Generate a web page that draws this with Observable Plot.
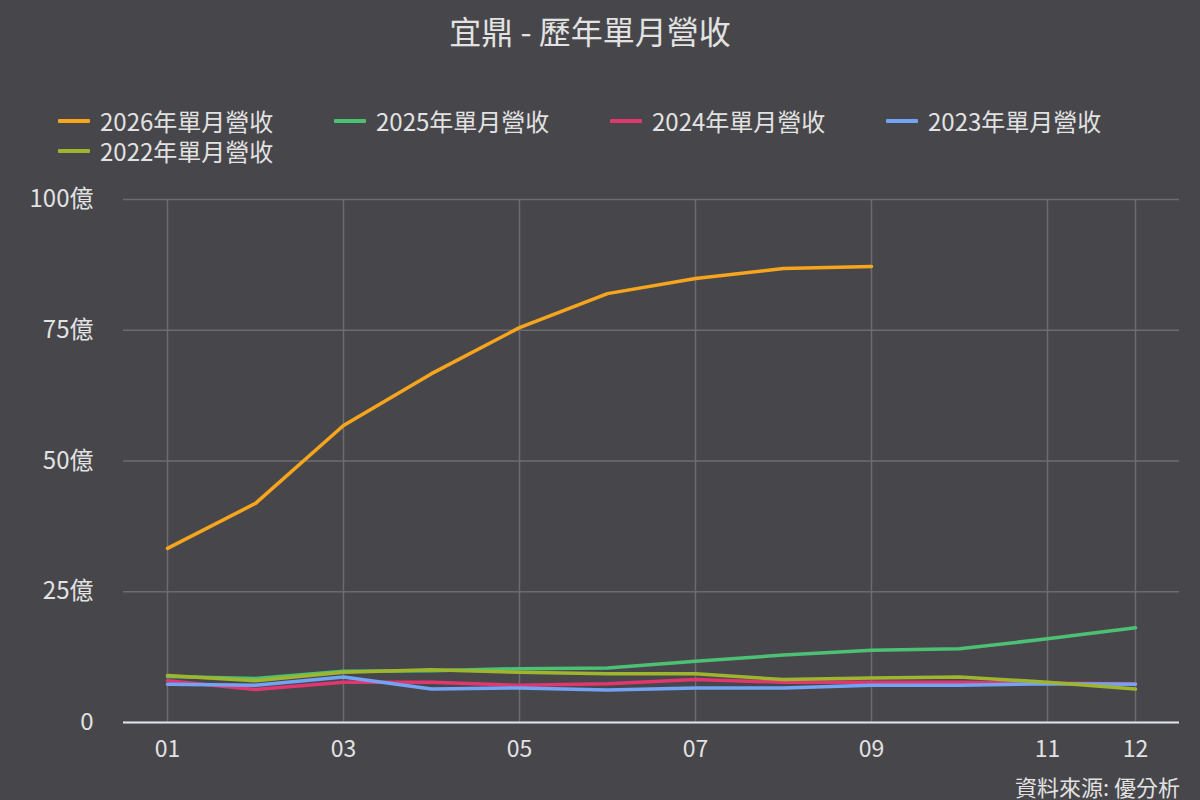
<!DOCTYPE html>
<html>
<head>
<meta charset="utf-8">
<script src="https://cdn.jsdelivr.net/npm/d3@7"></script>
<script src="https://cdn.jsdelivr.net/npm/@observablehq/plot@0.6"></script>
<style>
  html, body { margin: 0; padding: 0; }
  body { width: 1200px; height: 800px; background: #47474b; position: relative; overflow: hidden;
         font-family: "Noto Sans CJK TC", sans-serif; color: #e2e2e2; }
  #title { position: absolute; top: 8px; left: -10px; width: 1200px; text-align: center; font-size: 32px; line-height: 44px; }
  #legend { position: absolute; top: 106px; left: 58px; width: 1140px; display: flex; flex-wrap: wrap; }
  .item { width: 276px; height: 30px; display: flex; align-items: center; font-size: 24px; line-height: 28px; }
  .item span { line-height: 28px; }
  .sw { width: 32px; height: 4px; margin-right: 10px; border-radius: 1px; }
  #chart { position: absolute; top: 180px; left: 0; }
  #caption { position: absolute; top: 771px; right: 20px; font-size: 22px; line-height: 30px; }
</style>
</head>
<body>
<div id="title">宜鼎 - 歷年單月營收</div>
<div id="legend"></div>
<div id="chart"></div>
<div id="caption">資料來源: 優分析</div>
<script>
const months = [1,2,3,4,5,6,7,8,9,10,11,12];
const seriesNames = ["2026年單月營收","2025年單月營收","2024年單月營收","2023年單月營收","2022年單月營收"];
const seriesColors = ["#f7a51d","#4cc174","#e0376f","#73a3f5","#a0b52e"];
const rev2026 = [33.3,41.9,56.8,66.7,75.5,82.0,84.9,86.8,87.2,null,null,null];
const rev2025 = [8.8,8.4,9.8,9.9,10.3,10.4,11.7,12.9,13.8,14.1,16.0,18.1];
const rev2024 = [8.0,6.3,7.7,7.7,7.1,7.4,8.2,7.7,7.7,7.7,7.5,7.4];
const rev2023 = [7.3,7.1,8.7,6.4,6.6,6.2,6.6,6.6,7.1,7.1,7.4,7.3];
const rev2022 = [9.0,8.0,9.6,10.1,9.6,9.3,9.3,8.2,8.5,8.7,7.7,6.4];
const yTicks = [0,25,50,75,100];
const xTicks = [1,3,5,7,9,11,12];

const allSeries = [rev2026, rev2025, rev2024, rev2023, rev2022];
const data = [];
allSeries.forEach((arr, si) => {
  arr.forEach((v, i) => { if (v != null) data.push({series: seriesNames[si], month: months[i], value: v}); });
});

const legend = document.getElementById("legend");
seriesNames.forEach((n, i) => {
  const it = document.createElement("div"); it.className = "item";
  const sw = document.createElement("div"); sw.className = "sw"; sw.style.background = seriesColors[i];
  const t = document.createElement("span"); t.textContent = n;
  it.appendChild(sw); it.appendChild(t); legend.appendChild(it);
});

const chart = Plot.plot({
  width: 1200,
  height: 590,
  marginTop: 19,
  marginBottom: 48,
  marginLeft: 123,
  marginRight: 21,
  style: {background: "transparent", color: "#e2e2e2", fontFamily: '"Noto Sans CJK TC", sans-serif'},
  x: {domain: [0.5, 12.5], label: null},
  y: {domain: [0, 100], label: null},
  color: {domain: seriesNames, range: seriesColors},
  marks: [
    Plot.gridY(yTicks, {stroke: "#6c6c70", strokeOpacity: 1, strokeWidth: 1.5}),
    Plot.gridX(xTicks, {stroke: "#6c6c70", strokeOpacity: 1, strokeWidth: 1.5}),
    Plot.axisY(yTicks, {tickSize: 0, tickPadding: 30, fontSize: 24, fill: "#e2e2e2", label: null,
      tickFormat: d => d === 0 ? "0" : d + "億"}),
    Plot.axisX(xTicks, {tickSize: 0, tickPadding: 18, fontSize: 23, fill: "#e2e2e2", label: null,
      tickFormat: d => String(d).padStart(2, "0")}),
    Plot.ruleY([0], {stroke: "#dfe3ee", strokeWidth: 2}),
    Plot.line(data, {x: "month", y: "value", z: "series", stroke: "series", strokeWidth: 3.5,
      strokeLinejoin: "round", curve: "linear"})
  ]
});
document.getElementById("chart").appendChild(chart);
</script>
</body>
</html>
